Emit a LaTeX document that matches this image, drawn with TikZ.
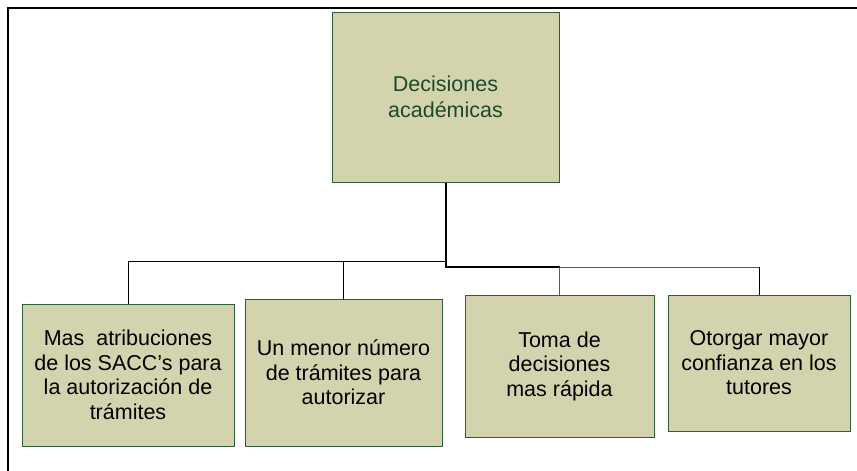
\documentclass[tikz,border=0pt]{standalone}
\usepackage{fontspec}
\setmainfont{Liberation Sans}
\usepackage{tikz}
\usetikzlibrary{calc}

\definecolor{boxfill}{HTML}{D3D3AD}
\definecolor{boxline}{HTML}{2E5E3E}
\definecolor{toptext}{HTML}{1E4A2A}

\begin{document}
\begin{tikzpicture} [x=1pt,y=-1pt, box/.style={draw=boxline, line width=1pt, fill=boxfill, align=center, inner sep=0pt, font=\fontsize{21.5}{24.5}\selectfont}]
\useasboundingbox (0,0) rectangle (857,471);

\draw[line width=2.2pt] (7.7,471) -- (7.7,7.7) -- (857,7.7);

\node[box, minimum width=227, minimum height=170, text=toptext, font=\fontsize{21.5}{26}\selectfont] (top) at (445.5,97) {Decisiones\\acad\'emicas};

\node[box, minimum width=212, minimum height=142] (mas) at (128,375) {Mas\ \ atribuciones\\de los SACC’s para\\la autorizaci\'on de\\tr\'amites};
\node[box, minimum width=197, minimum height=147] (menor) at (343.5,372.5) {Un menor n\'umero\\de tr\'amites para\\autorizar};
\node[box, minimum width=189, minimum height=142] (toma) at (559.5,366) {Toma de\\decisiones\\mas r\'apida};
\node[box, minimum width=182, minimum height=136] (otorgar) at (759,363) {Otorgar mayor\\confianza en los\\tutores};

\coordinate (jl) at (445.5,261);
\coordinate (jr) at (445.5,267);

\draw[line width=1pt] (mas.north) |- (jl);
\draw[line width=1pt] (menor.north) -- (menor.north |- jl);
\draw[line width=2pt] (top.south) -- (jr) -- (toma.north |- jr);
\draw[line width=1pt, gray!70!black] (toma.north |- jr) -- (otorgar.north |- jr);
\draw[line width=1pt, gray!70!black] (toma.north |- jr) -- (toma.north);
\draw[line width=1pt] (otorgar.north |- jr) -- (otorgar.north);
\end{tikzpicture}
\end{document}
